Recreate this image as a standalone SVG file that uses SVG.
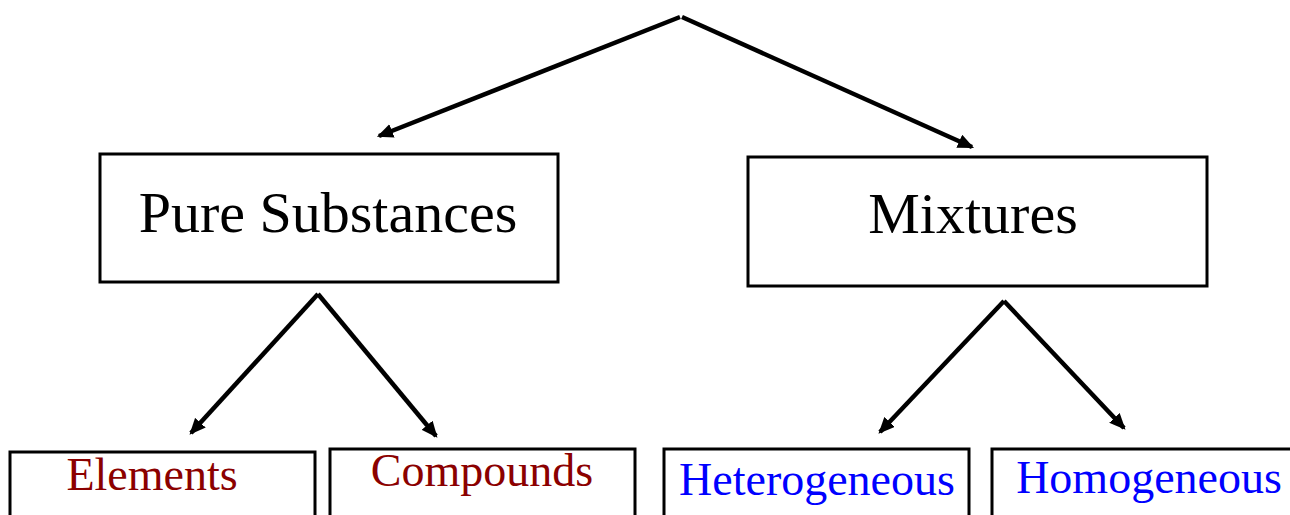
<svg xmlns="http://www.w3.org/2000/svg" width="1290" height="515" viewBox="0 0 1290 515">
  <style>
    .box { fill: #ffffff; stroke: #000000; stroke-width: 3; }
    .link { fill: none; stroke: #000000; stroke-width: 4.5; marker-end: url(#head); }
    .label { font-family: "Liberation Serif", "Times New Roman", serif; text-anchor: middle; }
    .main { font-size: 58px; fill: #000000; }
    .pure { font-size: 46px; fill: #8b0000; }
    .mix { font-size: 46px; fill: #0000ff; }
  </style>
  <defs>
    <marker id="head" markerWidth="3.6" markerHeight="3.2" refX="3.1" refY="1.6" orient="auto" markerUnits="strokeWidth">
      <path d="M0,0 L3.6,1.6 L0,3.2 Z" fill="#000000"/>
    </marker>
  </defs>
  <rect width="1290" height="515" fill="#ffffff"/>

  <g id="connectors">
    <line class="link" x1="680" y1="17" x2="379" y2="136"/>
    <line class="link" x1="682" y1="17" x2="972" y2="147"/>
    <line class="link" x1="318" y1="294" x2="191" y2="433"/>
    <line class="link" x1="318" y1="294" x2="436" y2="436"/>
    <line class="link" x1="1004" y1="301" x2="880" y2="432"/>
    <line class="link" x1="1004" y1="301" x2="1124" y2="428"/>
  </g>

  <g id="pure-substances">
    <rect class="box" x="100" y="154" width="458" height="128"/>
    <text class="label main" x="328" y="232">Pure Substances</text>
  </g>
  <g id="mixtures">
    <rect class="box" x="748" y="157" width="459" height="129"/>
    <text class="label main" x="973" y="233">Mixtures</text>
  </g>
  <g id="elements">
    <rect class="box" x="10" y="452" width="305" height="70"/>
    <text class="label pure" x="152" y="490">Elements</text>
  </g>
  <g id="compounds">
    <rect class="box" x="330" y="449" width="305" height="70"/>
    <text class="label pure" x="482" y="486">Compounds</text>
  </g>
  <g id="heterogeneous">
    <rect class="box" x="664" y="449" width="305" height="70"/>
    <text class="label mix" x="817" y="495">Heterogeneous</text>
  </g>
  <g id="homogeneous">
    <rect class="box" x="992" y="449" width="305" height="70"/>
    <text class="label mix" x="1149" y="493">Homogeneous</text>
  </g>
</svg>
